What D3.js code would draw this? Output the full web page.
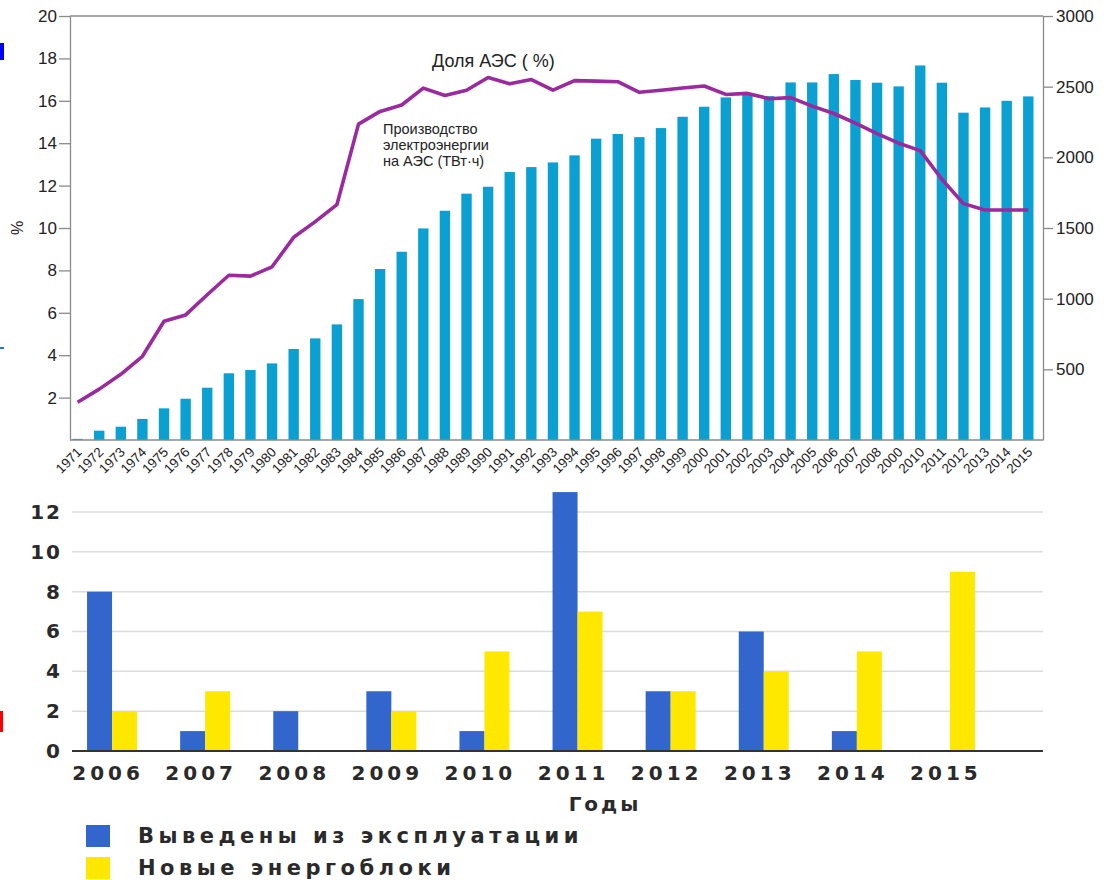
<!DOCTYPE html>
<html>
<head>
<meta charset="utf-8">
<script src="https://cdn.jsdelivr.net/npm/d3@7"></script>
<style>
  body { margin: 0; background: #fff; }
  .axis-top text { font-family: "Liberation Sans", Arial, sans-serif; fill: #222; }
  .axis-top path, .axis-top line { stroke: #8a8a8a; stroke-width: 1.3; }
  .axis-bottom text { font-family: "DejaVu Sans", sans-serif; font-weight: bold; fill: #2a2a2a; }
</style>
</head>
<body>
<div id="app"></div>
<script>
const width = 1105,
  height = 880;

// top chart: nuclear share (%) and nuclear generation (TWh)
const years = [1971, 1972, 1973, 1974, 1975, 1976, 1977, 1978, 1979, 1980,
  1981, 1982, 1983, 1984, 1985, 1986, 1987, 1988, 1989, 1990,
  1991, 1992, 1993, 1994, 1995, 1996, 1997, 1998, 1999, 2000,
  2001, 2002, 2003, 2004, 2005, 2006, 2007, 2008, 2009, 2010,
  2011, 2012, 2013, 2014, 2015];
// labels as printed in the source (2009 is printed as "2000")
const yearLabels = ["1971", "1972", "1973", "1974", "1975", "1976", "1977", "1978", "1979", "1980",
  "1981", "1982", "1983", "1984", "1985", "1986", "1987", "1988", "1989", "1990",
  "1991", "1992", "1993", "1994", "1995", "1996", "1997", "1998", "1999", "2000",
  "2001", "2002", "2003", "2004", "2005", "2006", "2007", "2008", "2000", "2010",
  "2011", "2012", "2013", "2014", "2015"];
const nuclearShare = [1.78, 2.4, 3.1, 3.95, 5.6, 5.9, 6.85, 7.77, 7.73, 8.17,
  9.56, 10.3, 11.1, 14.9, 15.5, 15.8, 16.6, 16.25, 16.5, 17.1,
  16.8, 17.0, 16.5, 16.95, 16.93, 16.9, 16.4, 16.5, 16.6, 16.7,
  16.3, 16.35, 16.1, 16.15, 15.75, 15.4, 14.95, 14.45, 14.0, 13.65,
  12.3, 11.15, 10.85, 10.85, 10.85];
const production = [8, 66, 94, 149, 224, 292, 370, 472, 495, 542,
  644, 719, 818, 997, 1210, 1332, 1497, 1622, 1743, 1792,
  1896, 1931, 1964, 2014, 2132, 2165, 2143, 2207, 2287, 2358,
  2424, 2441, 2433, 2530, 2530, 2589, 2547, 2528, 2502, 2650,
  2528, 2316, 2353, 2400, 2431];
const shareTicks = [2, 4, 6, 8, 10, 12, 14, 16, 18, 20];
const prodTicks = [500, 1000, 1500, 2000, 2500, 3000];

// bottom chart: reactors shut down / new units per year
const unitYears = ["2006", "2007", "2008", "2009", "2010", "2011", "2012", "2013", "2014", "2015"];
const retired = [8, 1, 2, 3, 1, 13, 3, 6, 1, 0];
const newUnits = [2, 3, 0, 2, 5, 7, 3, 4, 5, 9];
const unitTicks = [0, 2, 4, 6, 8, 10, 12];
const unitSeries = ["Выведены из эксплуатации", "Новые энергоблоки"];
const unitColors = ["#3366cc", "#ffe800"];

const svg = d3
  .select("#app")
  .append("svg")
  .attr("width", width)
  .attr("height", height);

// small coloured marks on the left edge of the slide
svg.append("rect").attr("x", 0).attr("y", 43).attr("width", 4).attr("height", 17).attr("fill", "#0000ff");
svg.append("rect").attr("x", 0).attr("y", 347).attr("width", 4).attr("height", 2).attr("fill", "#2a75c8");
svg.append("rect").attr("x", 0).attr("y", 711).attr("width", 3).attr("height", 21).attr("fill", "#ff0000");

//---------------- top chart
const x = d3
  .scaleBand()
  .domain(years)
  .range([66.8, 1039.1])
  .paddingInner(0.52)
  .paddingOuter(0.26);
const yPct = d3.scaleLinear().domain([0, 20]).range([440, 16]);
const yTwh = d3.scaleLinear().domain([0, 3000]).range([440, 16]);

const gTop = svg.append("g");

gTop
  .selectAll("rect.prod")
  .data(production)
  .join("rect")
  .attr("class", "prod")
  .attr("x", (d, i) => x(years[i]))
  .attr("width", x.bandwidth())
  .attr("y", (d) => yTwh(d))
  .attr("height", (d) => yTwh(0) - yTwh(d))
  .attr("fill", "#0aa0d2");

const line = d3
  .line()
  .x((d, i) => x(years[i]) + x.bandwidth() / 2)
  .y((d) => yPct(d));

gTop
  .append("path")
  .datum(nuclearShare)
  .attr("d", line)
  .attr("fill", "none")
  .attr("stroke", "#9a2a9e")
  .attr("stroke-width", 3.6)
  .attr("stroke-linejoin", "round");

// frame top
gTop
  .append("line")
  .attr("x1", 70)
  .attr("x2", 1043)
  .attr("y1", 16)
  .attr("y2", 16)
  .attr("stroke", "#8a8a8a")
  .attr("stroke-width", 1.3);

const leftAxis = gTop
  .append("g")
  .attr("class", "axis-top")
  .attr("transform", "translate(70,0)")
  .call(d3.axisLeft(yPct).tickValues(shareTicks).tickSize(11).tickSizeOuter(0).tickPadding(2));
leftAxis.selectAll("text").style("font-size", "17px");

const rightAxis = gTop
  .append("g")
  .attr("class", "axis-top")
  .attr("transform", "translate(1043,0)")
  .call(
    d3.axisRight(yTwh)
      .tickValues(prodTicks)
      .tickSize(10)
      .tickSizeOuter(0)
      .tickPadding(3)
      .tickFormat(d3.format("d"))
  );
rightAxis.selectAll("text").style("font-size", "17px");

const xAxis = gTop
  .append("g")
  .attr("class", "axis-top")
  .attr("transform", "translate(0,440)")
  .call(d3.axisBottom(x).tickSize(0).tickSizeOuter(0).tickFormat((d, i) => yearLabels[i]));
xAxis.select(".domain").attr("d", "M70,0H1043");
xAxis
  .selectAll("text")
  .style("font-size", "13.5px")
  .attr("text-anchor", "end")
  .attr("x", 0)
  .attr("y", 0)
  .attr("dy", 0)
  .attr("transform", "translate(5,13) rotate(-45)");

// axis title and annotations
gTop
  .append("text")
  .attr("transform", "translate(23,228) rotate(-90)")
  .attr("text-anchor", "middle")
  .style("font-family", "Liberation Sans, Arial, sans-serif")
  .style("font-size", "16px")
  .attr("fill", "#222")
  .text("%");

gTop
  .append("text")
  .attr("x", 432)
  .attr("y", 67)
  .style("font-family", "Liberation Sans, Arial, sans-serif")
  .style("font-size", "18px")
  .attr("fill", "#222")
  .text("Доля АЭС ( %)");

const note = gTop
  .append("text")
  .attr("x", 383)
  .attr("y", 134)
  .style("font-family", "Liberation Sans, Arial, sans-serif")
  .style("font-size", "14.5px")
  .attr("fill", "#222");
["Производство", "электроэнергии", "на АЭС (ТВт·ч)"].forEach((t, i) => {
  note.append("tspan").attr("x", 383).attr("dy", i ? 16 : 0).text(t);
});

//---------------- bottom chart
const xb = d3
  .scaleBand()
  .domain(unitYears)
  .range([65.5, 996.5])
  .paddingInner(0.463)
  .paddingOuter(0.2315);
const xs = d3.scaleBand().domain([0, 1]).range([0, xb.bandwidth()]);
const yb = d3.scaleLinear().domain([0, 12]).range([751, 512]);

const gBot = svg.append("g");

// gridlines
gBot
  .selectAll("line.grid")
  .data(unitTicks.filter((d) => d > 0))
  .join("line")
  .attr("class", "grid")
  .attr("x1", 72)
  .attr("x2", 1043)
  .attr("y1", (d) => yb(d))
  .attr("y2", (d) => yb(d))
  .attr("stroke", "#dcdcdc")
  .attr("stroke-width", 1.5);

const yAxisB = gBot
  .append("g")
  .attr("class", "axis-bottom")
  .attr("transform", "translate(72,0)")
  .call(d3.axisLeft(yb).tickValues(unitTicks).tickSize(0).tickPadding(10));
yAxisB.select(".domain").remove();
yAxisB.selectAll("text").style("font-size", "20px").style("letter-spacing", "2px");

const seriesValues = [retired, newUnits];
seriesValues.forEach((vals, j) => {
  gBot
    .selectAll("rect.s" + j)
    .data(vals)
    .join("rect")
    .attr("class", "s" + j)
    .attr("x", (d, i) => xb(unitYears[i]) + xs(j))
    .attr("width", xs.bandwidth())
    .attr("y", (d) => yb(d))
    .attr("height", (d) => yb(0) - yb(d))
    .attr("fill", unitColors[j]);
});

gBot
  .append("line")
  .attr("x1", 72)
  .attr("x2", 1043)
  .attr("y1", yb(0))
  .attr("y2", yb(0))
  .attr("stroke", "#333")
  .attr("stroke-width", 2);

const xAxisB = gBot
  .append("g")
  .attr("class", "axis-bottom")
  .attr("transform", "translate(-4,751)")
  .call(d3.axisBottom(xb).tickSize(0).tickPadding(15));
xAxisB.select(".domain").remove();
xAxisB.selectAll("text").style("font-size", "20px").style("letter-spacing", "4px");

gBot
  .append("text")
  .attr("class", "axis-bottom")
  .attr("x", 605)
  .attr("y", 811)
  .attr("text-anchor", "middle")
  .style("font-family", "DejaVu Sans, sans-serif")
  .style("font-weight", "bold")
  .style("font-size", "20px")
  .style("letter-spacing", "3px")
  .attr("fill", "#2a2a2a")
  .text("Годы");

// legend
const legend = gBot
  .selectAll("g.legend")
  .data(unitSeries)
  .join("g")
  .attr("class", "legend")
  .attr("transform", (d, i) => `translate(86,${825 + i * 32})`);
legend
  .append("rect")
  .attr("width", 24)
  .attr("height", 22)
  .attr("fill", (d, i) => unitColors[i]);
legend
  .append("text")
  .attr("x", 52)
  .attr("y", 18)
  .style("font-family", "DejaVu Sans, sans-serif")
  .style("font-weight", "bold")
  .style("font-size", "21px")
  .style("letter-spacing", "4.5px")
  .attr("fill", "#2a2a2a")
  .text((d) => d);
</script>
</body>
</html>
